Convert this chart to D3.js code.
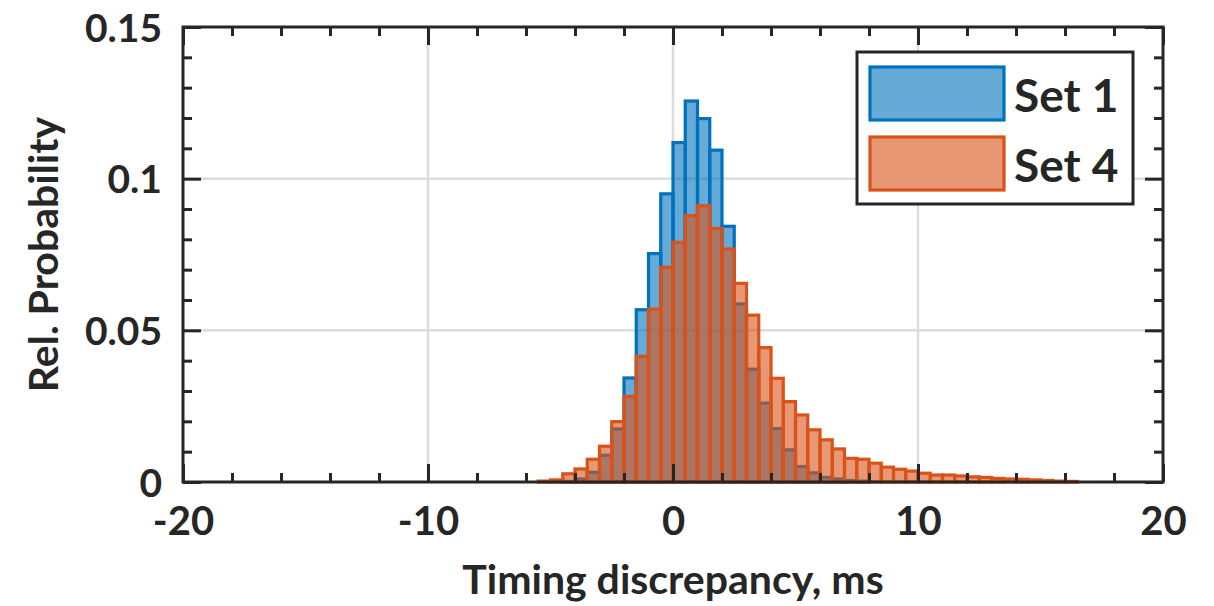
<!DOCTYPE html>
<html>
<head>
<meta charset="utf-8">
<script src="https://cdn.jsdelivr.net/npm/d3@7"></script>
<style>
  body { margin: 0; background: #fff; }
  text { font-family: Lato, "Open Sans", sans-serif; font-weight: bold; fill: #262626; }
</style>
</head>
<body>
<svg id="chart" width="1214" height="606"></svg>
<script>
// histogram bin edges (ms), shared by both sets
var binEdges = [-6, -5.5, -5, -4.5, -4, -3.5, -3, -2.5, -2, -1.5, -1, -0.5, 0, 0.5, 1, 1.5, 2, 2.5, 3, 3.5,
  4, 4.5, 5, 5.5, 6, 6.5, 7, 7.5, 8, 8.5, 9, 9.5, 10, 10.5, 11, 11.5, 12, 12.5, 13, 13.5,
  14, 14.5, 15, 15.5, 16, 16.5, 17];

var set1Values = [0, 0, 0, 0.0002, 0.001, 0.0032, 0.0088, 0.0175, 0.0343, 0.0568, 0.0753, 0.095,
  0.1119, 0.1256, 0.1198, 0.1094, 0.0843, 0.0587, 0.0372, 0.026, 0.0176, 0.0106, 0.0051, 0.003,
  0.0015, 0.001, 0.0005, 0.0003, 0, 0, 0, 0, 0, 0, 0, 0, 0, 0, 0, 0, 0, 0, 0, 0, 0, 0];

var set4Values = [0, 0.0003, 0.0007, 0.0027, 0.0043, 0.0075, 0.0118, 0.0199, 0.0282, 0.0414,
  0.057, 0.0708, 0.079, 0.0878, 0.0911, 0.0836, 0.0768, 0.0655, 0.055, 0.0443, 0.0342, 0.0265,
  0.0221, 0.0172, 0.0139, 0.0109, 0.0078, 0.0075, 0.0062, 0.0049, 0.0042, 0.0036, 0.0029, 0.0023,
  0.0023, 0.002, 0.0017, 0.0015, 0.0012, 0.001, 0.0009, 0.0007, 0.0005, 0.0003, 0.0002, 0];

var seriesNames = ["Set 1", "Set 4"];
var xTicks = [-20, -10, 0, 10, 20];
var xMinorTicks = [-18, -16, -14, -12, -8, -6, -4, -2, 2, 4, 6, 8, 12, 14, 16, 18];
var yTicks = [0, 0.05, 0.1, 0.15];
var yMinorTicks = [0.01, 0.02, 0.03, 0.04, 0.06, 0.07, 0.08, 0.09, 0.11, 0.12, 0.13, 0.14];
var xTitle = "Timing discrepancy, ms";
var yTitle = "Rel. Probability";

(function() {
  var svg = d3.select("#chart");
  var pl = 183, pr = 1163, pt = 27, pb = 482;
  var axisColor = "#262626";

  var x = d3.scaleLinear().domain([-20, 20]).range([pl, pr]);
  var y = d3.scaleLinear().domain([0, 0.15]).range([pb, pt]);

  // grid
  var grid = svg.append("g").attr("stroke", "#dcdcdc").attr("stroke-width", 2.5);
  grid.selectAll(".gx").data(xTicks.slice(1, -1)).enter().append("line")
    .attr("x1", x).attr("x2", x).attr("y1", pt).attr("y2", pb);
  grid.selectAll(".gy").data(yTicks.slice(1, -1)).enter().append("line")
    .attr("y1", y).attr("y2", y).attr("x1", pl).attr("x2", pr);

  // bars
  var colors = [
    { edge: "#0072BD", fill: "#0072BD" },
    { edge: "#D95319", fill: "#D95319" }
  ];

  function drawBars(values, c) {
    var bins = [];
    for (var i = 0; i < values.length; i++) {
      if (values[i] > 0) bins.push({ x0: binEdges[i], x1: binEdges[i + 1], v: values[i] });
    }
    svg.append("g").selectAll("rect").data(bins).enter().append("rect")
      .attr("x", function(d) { return x(d.x0); })
      .attr("width", function(d) { return x(d.x1) - x(d.x0); })
      .attr("y", function(d) { return y(d.v); })
      .attr("height", function(d) { return y(0) - y(d.v); })
      .attr("fill", c.fill).attr("fill-opacity", 0.6)
      .attr("stroke", c.edge).attr("stroke-width", 3.2);
  }
  drawBars(set1Values, colors[0]);
  drawBars(set4Values, colors[1]);

  // axes: ticks pointing inward like matlab
  function styleAxis(g) {
    g.select(".domain").remove();
    g.selectAll(".tick line").attr("stroke", axisColor).attr("stroke-width", 3);
  }

  svg.append("g").attr("transform", "translate(0," + pb + ")")
    .call(d3.axisBottom(x).tickValues(xMinorTicks).tickSize(-9).tickFormat(""))
    .call(styleAxis);
  var xAx = svg.append("g").attr("transform", "translate(0," + pb + ")")
    .call(d3.axisBottom(x).tickValues(xTicks).tickSize(-18).tickFormat(function(d) { return String(d); }))
    .call(styleAxis);
  xAx.selectAll(".tick text").attr("y", 53).attr("dy", null)
    .attr("font-size", 40).attr("fill", axisColor);

  svg.append("g").attr("transform", "translate(0," + pt + ")")
    .call(d3.axisTop(x).tickValues(xMinorTicks).tickSize(-9).tickFormat("")).call(styleAxis);
  svg.append("g").attr("transform", "translate(0," + pt + ")")
    .call(d3.axisTop(x).tickValues(xTicks).tickSize(-18).tickFormat("")).call(styleAxis);

  svg.append("g").attr("transform", "translate(" + pl + ",0)")
    .call(d3.axisLeft(y).tickValues(yMinorTicks).tickSize(-9).tickFormat("")).call(styleAxis);
  var yAx = svg.append("g").attr("transform", "translate(" + pl + ",0)")
    .call(d3.axisLeft(y).tickValues(yTicks).tickSize(-18).tickFormat(function(d) { return String(d); }))
    .call(styleAxis);
  yAx.selectAll(".tick text").attr("x", -21).attr("dy", "0.36em")
    .attr("font-size", 39).attr("fill", axisColor);

  svg.append("g").attr("transform", "translate(" + pr + ",0)")
    .call(d3.axisRight(y).tickValues(yMinorTicks).tickSize(-9).tickFormat("")).call(styleAxis);
  svg.append("g").attr("transform", "translate(" + pr + ",0)")
    .call(d3.axisRight(y).tickValues(yTicks).tickSize(-18).tickFormat("")).call(styleAxis);

  // box
  svg.append("rect").attr("x", pl).attr("y", pt)
    .attr("width", pr - pl).attr("height", pb - pt)
    .attr("fill", "none").attr("stroke", axisColor).attr("stroke-width", 3);

  // titles
  svg.append("text").attr("x", (pl + pr) / 2).attr("y", 594)
    .attr("text-anchor", "middle").attr("font-size", 41).text(xTitle);
  svg.append("text").attr("transform", "translate(58," + (pt + pb) / 2 + ") rotate(-90)")
    .attr("text-anchor", "middle").attr("font-size", 41).text(yTitle);

  // legend
  var legend = svg.append("g");
  legend.append("rect").attr("x", 857).attr("y", 52).attr("width", 276).attr("height", 152)
    .attr("fill", "#fff").attr("stroke", axisColor).attr("stroke-width", 3);
  var items = legend.selectAll(".item").data(seriesNames).enter().append("g")
    .attr("transform", function(d, i) { return "translate(0," + (i * 70) + ")"; });
  items.append("rect").attr("x", 870).attr("y", 67).attr("width", 134).attr("height", 53)
    .attr("fill", function(d, i) { return colors[i].fill; }).attr("fill-opacity", 0.6)
    .attr("stroke", function(d, i) { return colors[i].edge; }).attr("stroke-width", 3.2);
  items.append("text").attr("x", 1014).attr("y", 112).attr("font-size", 46)
    .attr("fill", "#000").text(function(d) { return d; });
})();
</script>
</body>
</html>
